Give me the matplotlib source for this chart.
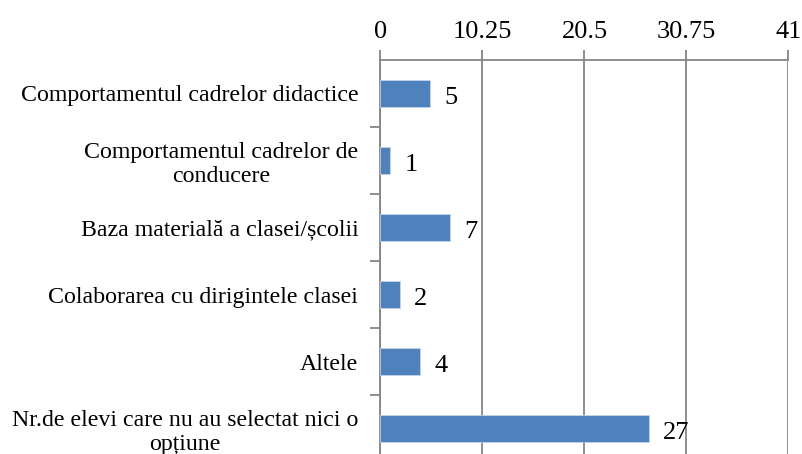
import matplotlib
matplotlib.use('Agg')
import matplotlib.pyplot as plt

categories = [
    'Comportamentul cadrelor didactice',
    'Comportamentul cadrelor de\nconducere',
    'Baza materială a clasei/școlii',
    'Colaborarea cu dirigintele clasei',
    'Altele',
    'Nr.de elevi care nu au selectat nici o\nopțiune',
]
values = [5, 1, 7, 2, 4, 27]
xticks = [0, 10.25, 20.5, 30.75, 41]
xtick_labels = ['0', '10.25', '20.5', '30.75', '41']

plt.rcParams['font.family'] = ['Liberation Serif', 'DejaVu Serif']

W, H = 803, 454
fig = plt.figure(figsize=(W / 100, H / 100), dpi=100)
left, right, top, bottom = 380.5, 788.5, 60, 462
ax = fig.add_axes([left / W, (H - bottom) / H, (right - left) / W, (bottom - top) / H])

ypos = list(range(len(categories)))
ax.barh(ypos, values, height=0.4, color='#4F81BD', edgecolor='#C9D9EE', linewidth=0.5, zorder=3)
ax.set_ylim(len(categories) - 0.5, -0.5)
ax.set_xlim(0, 41)

ax.xaxis.tick_top()
ax.set_xticks(xticks, xtick_labels, fontsize=19)
ax.tick_params(axis='x', length=7, width=1.3, color='#868686', pad=5)
ax.grid(True, axis='x', color='#868686', linewidth=1.3, zorder=0)

ax.set_yticks(ypos, categories, fontsize=17.2, linespacing=1.2, multialignment='center')
ax.set_yticks([y + 0.5 for y in ypos[:-1]], minor=True)
ax.tick_params(axis='y', which='major', length=0, pad=16)
ax.tick_params(axis='y', which='minor', length=7, width=1.3, color='#868686')

for sp in ['right', 'bottom']:
    ax.spines[sp].set_visible(False)
for sp in ['top', 'left']:
    ax.spines[sp].set_color('#868686')
    ax.spines[sp].set_linewidth(1.3)

for y, v in zip(ypos, values):
    ax.text(v + 1.4, y + 0.06, str(v), va='center', ha='left', fontsize=19)

fig.savefig('out.png', dpi=100)
